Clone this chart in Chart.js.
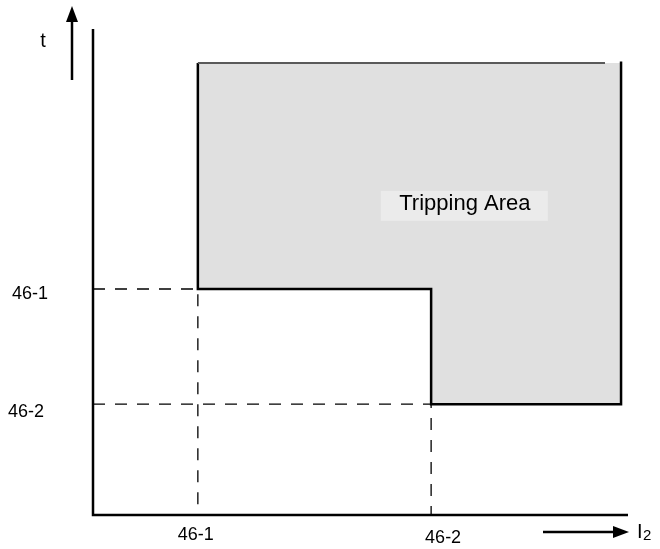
<!DOCTYPE html>
<html>
<head>
<meta charset="utf-8">
<script src="https://cdn.jsdelivr.net/npm/chart.js@4/dist/chart.umd.min.js"></script>
<style>
  html, body { margin: 0; padding: 0; background: #fff; }
  #wrap { width: 660px; height: 549px; }
</style>
</head>
<body>
<div id="wrap"><canvas id="trip"></canvas></div>
<script>
// negative sequence (46) two-stage characteristic, arbitrary units
const stageNames = ['46-1', '46-2'];
const pickupI = [19.6, 63.2];   // I2 pickup of each stage
const delayT = [46.5, 22.8];    // time delay of each stage
const iMax = 98.7;              // right end of the tripping area
const tTop = 93;                // top end of the tripping area
const topEdgeEnd = 95.7;        // grey top edge stops a bit short

const areaPts = [
  { x: pickupI[0], y: tTop }, { x: iMax, y: tTop }, { x: iMax, y: delayT[1] },
  { x: pickupI[1], y: delayT[1] }, { x: pickupI[1], y: delayT[0] },
  { x: pickupI[0], y: delayT[0] }, { x: pickupI[0], y: tTop }
];
const stepPts = [
  { x: pickupI[0], y: tTop }, { x: pickupI[0], y: delayT[0] },
  { x: pickupI[1], y: delayT[0] }, { x: pickupI[1], y: delayT[1] },
  { x: iMax, y: delayT[1] }, { x: iMax, y: tTop + 0.3 }
];

const txtFont = '"Liberation Sans", Arial, sans-serif';

const labels = {
  id: 'labels',
  afterDraw(chart) {
    const { ctx, scales: { x, y }, chartArea: a } = chart;
    ctx.save();
    ctx.fillStyle = '#000';
    ctx.font = '18px ' + txtFont;
    ctx.textBaseline = 'middle';
    // y side stage labels
    ctx.textAlign = 'left';
    ctx.fillText(stageNames[0], 12, y.getPixelForValue(delayT[0]) + 5);
    ctx.fillText(stageNames[1], 8, y.getPixelForValue(delayT[1]) + 8);
    // x side stage labels
    ctx.textAlign = 'center';
    ctx.fillText(stageNames[0], x.getPixelForValue(pickupI[0]) - 2, a.bottom + 20);
    ctx.fillText(stageNames[1], x.getPixelForValue(pickupI[1]) + 12, a.bottom + 23);

    // tripping area label with light box
    const cx = x.getPixelForValue(69.5), cy = y.getPixelForValue(63.6);
    ctx.fillStyle = '#ebebeb';
    ctx.fillRect(cx - 84, cy - 15, 167, 30);
    ctx.fillStyle = '#000';
    ctx.font = '22px ' + txtFont;
    ctx.fillText('Tripping Area', cx, cy - 2);

    // t arrow
    ctx.strokeStyle = '#000';
    ctx.lineWidth = 2.5;
    ctx.beginPath();
    ctx.moveTo(72, a.top + 51); ctx.lineTo(72, 18);
    ctx.stroke();
    ctx.beginPath();
    ctx.moveTo(72, 6); ctx.lineTo(66, 22); ctx.lineTo(78, 22); ctx.closePath();
    ctx.fill();
    ctx.font = '20px ' + txtFont;
    ctx.fillText('t', 43, 41);

    // I2 arrow
    const ay = a.bottom + 17;
    ctx.beginPath();
    ctx.moveTo(543, ay); ctx.lineTo(616, ay);
    ctx.stroke();
    ctx.beginPath();
    ctx.moveTo(629, ay); ctx.lineTo(613, ay - 6); ctx.lineTo(613, ay + 6); ctx.closePath();
    ctx.fill();
    ctx.textAlign = 'left';
    ctx.fillText('I', 637, ay);
    ctx.font = '15px ' + txtFont;
    ctx.fillText('2', 643, ay + 4);
    ctx.restore();
  }
};

new Chart(document.getElementById('trip'), {
  type: 'line',
  data: {
    datasets: [
      {
        // shaded area sits behind the outlines
        data: areaPts, fill: 'shape', order: 1,
        backgroundColor: '#e0e0e0', borderColor: 'rgba(0,0,0,0)', borderWidth: 0
      },
      {
        data: [{ x: pickupI[0], y: tTop }, { x: topEdgeEnd, y: tTop }],
        borderColor: '#5a5a5a', borderWidth: 2
      },
      {
        data: stepPts, borderColor: '#000', borderWidth: 2.5
      },
      {
        data: [{ x: 0, y: delayT[0] }, { x: pickupI[0], y: delayT[0] }, { x: pickupI[0], y: 0 }],
        borderColor: '#000', borderWidth: 1.3, borderDash: [12, 10]
      },
      {
        data: [{ x: 0, y: delayT[1] }, { x: pickupI[1], y: delayT[1] }, { x: pickupI[1], y: 0 }],
        borderColor: '#000', borderWidth: 1.3, borderDash: [12, 10]
      },
      {
        data: [{ x: 0, y: 100 }, { x: 0, y: 0 }, { x: 100, y: 0 }],
        borderColor: '#000', borderWidth: 2.5
      }
    ]
  },
  options: {
    responsive: true,
    maintainAspectRatio: false,
    animation: false,
    layout: { padding: { left: 93, right: 32, top: 29, bottom: 34 } },
    scales: {
      x: { type: 'linear', min: 0, max: 100, display: false },
      y: { type: 'linear', min: 0, max: 100, display: false }
    },
    datasets: { line: { clip: false } },
    plugins: {
      legend: { display: false },
      tooltip: { enabled: false }
    },
    elements: { line: { tension: 0 }, point: { radius: 0 } }
  },
  plugins: [labels]
});
</script>
</body>
</html>
